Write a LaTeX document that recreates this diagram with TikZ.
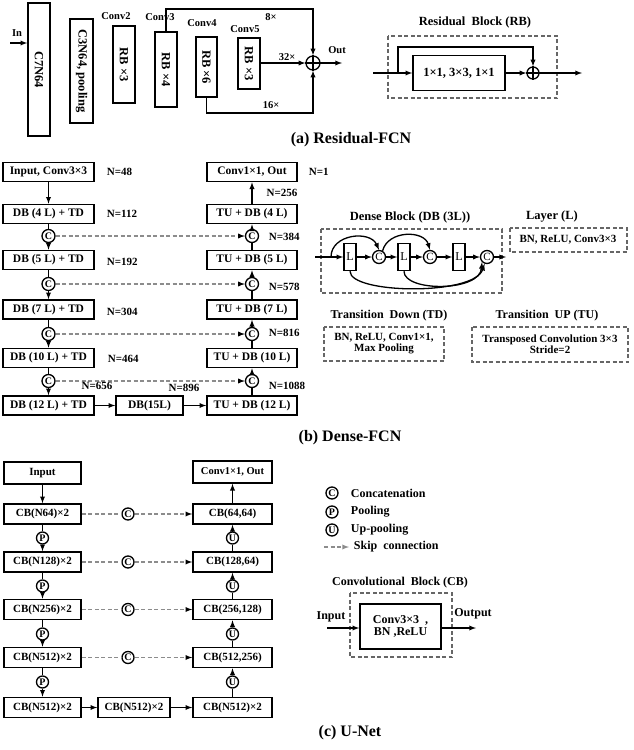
\documentclass[tikz,border=0pt]{standalone}
\usepackage{fontspec}
\setmainfont{Liberation Serif}
\usetikzlibrary{arrows}
\newcommand{\fnt}[1]{\fontsize{#1}{#1}\selectfont\bfseries}

\begin{document}
\begin{tikzpicture}[x=1pt,y=-1pt,>=latex,line width=1.3pt,
  blk/.style={draw,line width=1.6pt,inner sep=1pt,align=center},
  vblk/.style={blk,rotate=-90,font=\fnt{12.5}},
  dfl/.style={blk,minimum width=91pt,minimum height=19pt,font=\fnt{11.5}},
  ufl/.style={blk,minimum width=77pt,minimum height=20pt,font=\fnt{11}},
  lyr/.style={blk,minimum width=12pt,minimum height=27pt,font=\fontsize{12}{12}\selectfont},
  cir/.style={circle,draw,line width=1.3pt,inner sep=0pt,minimum size=12pt,font=\fnt{10}},
  dbx/.style={draw=black!60,dash pattern=on 4pt off 2.5pt,line width=1.3pt},
  skp/.style={draw=black!45,dash pattern=on 4pt off 2.5pt,line width=1.3pt},
  lbl/.style={font=\fnt{10.5}},
  nlbl/.style={font=\fnt{11}},
  ttl/.style={font=\fnt{12.5}},
  txt/.style={font=\fnt{11},align=center},
  captn/.style={font=\fnt{16}}]
\useasboundingbox (0,0) rectangle (633,750);

% (a) Residual-FCN
\node[vblk,minimum width=133pt,minimum height=22pt] (c7) at (39,69.5) {C7N64};
\node[vblk,minimum width=104pt,minimum height=23pt] (c3) at (81.5,71) {C3N64, pooling};
\node[vblk,minimum width=77pt,minimum height=22pt] (rb2) at (124,64.5) {RB ×3};
\node[vblk,minimum width=75pt,minimum height=22pt] (rb3) at (166,69.5) {RB ×4};
\node[vblk,minimum width=60pt,minimum height=21pt] (rb4) at (206.5,67) {RB ×6};
\node[vblk,minimum width=51pt,minimum height=22pt] (rb5) at (249,63.5) {RB ×3};
\node[lbl] (lc2) at (116,16) {Conv2};
\node[lbl] (lc3) at (160,17) {Conv3};
\node[lbl] (lc4) at (202,23) {Conv4};
\node[lbl] (lc5) at (245,29) {Conv5};
\node[lbl] (lin) at (17,33) {In};
\node[circle,draw,line width=1.3pt,minimum size=14pt,inner sep=0pt] (sum) at (313,63) {};
\draw (sum.north) -- (sum.south) (sum.west) -- (sum.east);
\coordinate (inpt) at (10,43);
\coordinate (top8) at (313,9);
\coordinate (bot16) at (313,113);
\coordinate (outr) at (342,63);
\draw[->] (inpt) -- (inpt -| c7.south);
\draw[->] (rb3.west) |- (top8) -- (sum.north);
\draw[->] (rb4.east) |- (bot16) -- (sum.south);
\draw[->] (rb5.north |- sum) -- (sum.west);
\draw[->] (sum.east) -- (outr);
\node[lbl] (l8) at (271,17) {8×};
\node[lbl] (l32) at (287,57) {32×};
\node[lbl] (l16) at (271,105) {16×};
\node[lbl] (lout) at (337,50) {Out};

% residual block
\node[ttl] (trb) at (475,22) {Residual\ \ Block (RB)};
\draw[dbx] (388,36) rectangle (557,98);
\node[blk,minimum width=92pt,minimum height=35pt,font=\fnt{12.5}] (rbc) at (459,73) {1×1, 3×3, 1×1};
\node[circle,draw,line width=1.3pt,minimum size=12pt,inner sep=0pt] (rbp) at (533,73) {};
\draw (rbp.north) -- (rbp.south) (rbp.west) -- (rbp.east);
\coordinate (rbs) at (373,73);
\coordinate (rbj) at (398,73);
\coordinate (rbt) at (533,47);
\coordinate (rbo) at (582,73);
\draw[->] (rbs) -- (rbc);
\draw[->] (rbj) |- (rbt) -- (rbp.north);
\draw[->] (rbc) -- (rbp);
\draw[->] (rbp) -- (rbo);
\node[captn] (capa) at (351,140) {(a) Residual-FCN};

% (b) Dense-FCN
\node[dfl] (inp) at (48.5,172) {Input, Conv3×3};
\node[dfl] (db4) at (48.5,214) {DB (4 L) + TD};
\node[dfl] (db5) at (48.5,260) {DB (5 L) + TD};
\node[dfl] (db7) at (48.5,309.5) {DB (7 L) + TD};
\node[dfl] (db10) at (48.5,358) {DB (10 L) + TD};
\node[dfl] (db12) at (48.5,405.5) {DB (12 L) + TD};
\node[dfl,minimum width=67pt] (db15) at (149.5,405.5) {DB(15L)};
\node[dfl,minimum width=90pt] (dout) at (252,172) {Conv1×1, Out};
\node[dfl,minimum width=90pt] (tu4) at (252,214) {TU + DB (4 L)};
\node[dfl,minimum width=90pt] (tu5) at (252,260) {TU + DB (5 L)};
\node[dfl,minimum width=90pt] (tu7) at (252,309.5) {TU + DB (7 L)};
\node[dfl,minimum width=90pt] (tu10) at (252,358) {TU + DB (10 L)};
\node[dfl,minimum width=90pt] (tu12) at (252,405.5) {TU + DB (12 L)};
\node[cir,minimum size=13pt] (ca1) at (48.5,236) {C};
\node[cir,minimum size=13pt] (ca2) at (48.5,284) {C};
\node[cir,minimum size=13pt] (ca3) at (48.5,334) {C};
\node[cir,minimum size=13pt] (ca4) at (48.5,381) {C};
\node[cir,minimum size=13pt] (cb1) at (252,236) {C};
\node[cir,minimum size=13pt] (cb2) at (252,284) {C};
\node[cir,minimum size=13pt] (cb3) at (252,334) {C};
\node[cir,minimum size=13pt] (cb4) at (252,381) {C};
\path (db4) edge (ca1) (db5) edge (ca2) (db7) edge (ca3) (db10) edge (ca4)
  (tu12) edge (cb4) (tu10) edge (cb3) (tu7) edge (cb2) (tu5) edge (cb1);
\path[->] (inp) edge (db4) (ca1) edge (db5) (ca2) edge (db7) (ca3) edge (db10) (ca4) edge (db12)
  (db12) edge (db15) (db15) edge (tu12)
  (cb4) edge (tu10) (cb3) edge (tu7) (cb2) edge (tu5) (cb1) edge (tu4) (tu4) edge (dout);
\path[skp,->] (ca1) edge (cb1) (ca2) edge (cb2) (ca3) edge (cb3) (ca4) edge (cb4);
\node[nlbl,anchor=west] (n48) at (103,172) {N=48};
\node[nlbl,anchor=west] (n112) at (103,214) {N=112};
\node[nlbl,anchor=west] (n192) at (103,262) {N=192};
\node[nlbl,anchor=west] (n304) at (103,312) {N=304};
\node[nlbl,anchor=west] (n464) at (104,359) {N=464};
\node[nlbl] (n656) at (97,386) {N=656};
\node[nlbl] (n896) at (184,388) {N=896};
\node[nlbl] (n1088) at (287,386) {N=1088};
\node[nlbl,anchor=west] (n1) at (305,172) {N=1};
\node[nlbl] (n256) at (282,193) {N=256};
\node[nlbl,anchor=west] (n384) at (265,237) {N=384};
\node[nlbl,anchor=west] (n578) at (265,287) {N=578};
\node[nlbl,anchor=west] (n816) at (265,333) {N=816};

% dense block
\node[ttl] (tdb) at (410,217) {Dense Block (DB (3L))};
\draw[dbx] (321,229) rectangle (502,293);
\node[lyr] (l1) at (350,257) {L};
\node[lyr] (l2) at (404,257) {L};
\node[lyr] (l3) at (459,257) {L};
\node[cir,minimum size=13pt,font=\fontsize{11}{11}\selectfont] (cc1) at (379,257) {C};
\node[cir,minimum size=13pt,font=\fontsize{11}{11}\selectfont] (cc2) at (430,257) {C};
\node[cir,minimum size=13pt,font=\fontsize{11}{11}\selectfont] (cc3) at (487,257) {C};
\coordinate (dbi) at (315,257);
\coordinate (dbj) at (331,257);
\coordinate (dbo) at (506,257);
\path[->] (dbi) edge (l1) (l1) edge (cc1) (cc1) edge (l2) (l2) edge (cc2) (cc2) edge (l3)
  (l3) edge (cc3) (cc3) edge (dbo);
\draw[->] (dbj) .. controls (331,234) and (370,230) .. (cc1.north);
\draw[->] (cc1.60) .. controls (388,230) and (424,230) .. (cc2.north);
\draw[->] (l1.south) .. controls (350,294) and (474,296) .. (cc3.250);
\draw[->] (l2.south) .. controls (404,292) and (480,292) .. (cc3.225);

\node[ttl] (tly) at (552,217) {Layer (L)};
\draw[dbx] (510,228) rectangle (627,252);
\node[txt] (tlyc) at (568,240) {BN, ReLU, Conv3×3};

\node[ttl,font=\fnt{12}] (ttd) at (389,316) {Transition\ \ Down (TD)};
\draw[dbx] (324,327) rectangle (444,361);
\node[txt] (ttdc) at (384,344) {BN, ReLU, Conv1×1,\\Max Pooling};
\node[ttl,font=\fnt{12}] (ttu) at (547,316) {Transition\ \ UP (TU)};
\draw[dbx] (472,327) rectangle (628,362);
\node[txt] (ttuc) at (550,344.5) {Transposed Convolution 3×3\\Stride=2};
\node[captn] (capb) at (350,438) {(b) Dense-FCN};

% (c) U-Net
\node[ufl,minimum height=22pt] (uin) at (42.5,473) {Input};
\node[ufl] (e1) at (42.5,514) {CB(N64)×2};
\node[ufl] (e2) at (42.5,562) {CB(N128)×2};
\node[ufl] (e3) at (42.5,609.5) {CB(N256)×2};
\node[ufl] (e4) at (42.5,657.5) {CB(N512)×2};
\node[ufl] (e5) at (42.5,707.5) {CB(N512)×2};
\node[ufl,minimum width=72pt] (m5) at (134,707.5) {CB(N512)×2};
\node[ufl,minimum width=79pt,minimum height=22pt,font=\fnt{10.5}] (uout) at (232.5,472) {Conv1×1, Out};
\node[ufl,minimum width=79pt] (d1) at (232.5,514) {CB(64,64)};
\node[ufl,minimum width=79pt] (d2) at (232.5,562) {CB(128,64)};
\node[ufl,minimum width=79pt] (d3) at (232.5,609.5) {CB(256,128)};
\node[ufl,minimum width=79pt] (d4) at (232.5,657.5) {CB(512,256)};
\node[ufl,minimum width=79pt] (d5) at (232.5,707.5) {CB(N512)×2};
\node[cir] (p1) at (42.5,538) {P};
\node[cir] (p2) at (42.5,586) {P};
\node[cir] (p3) at (42.5,634) {P};
\node[cir] (p4) at (42.5,682) {P};
\node[cir] (u1) at (232.5,538) {U};
\node[cir] (u2) at (232.5,586) {U};
\node[cir] (u3) at (232.5,634) {U};
\node[cir] (u4) at (232.5,682) {U};
\node[cir] (k1) at (128,514) {C};
\node[cir] (k2) at (128,562) {C};
\node[cir] (k3) at (128,609.5) {C};
\node[cir] (k4) at (128,657.5) {C};
\path (e1) edge (p1) (e2) edge (p2) (e3) edge (p3) (e4) edge (p4)
  (d5) edge (u4) (d4) edge (u3) (d3) edge (u2) (d2) edge (u1);
\path[->] (uin) edge (e1) (p1) edge (e2) (p2) edge (e3) (p3) edge (e4) (p4) edge (e5)
  (e5) edge (m5) (m5) edge (d5)
  (u4) edge (d4) (u3) edge (d3) (u2) edge (d2) (u1) edge (d1) (d1) edge (uout);
\path[skp] (e1) edge (k1) (e2) edge (k2) (e3) edge (k3) (e4) edge (k4);
\path[skp,->] (k1) edge (d1) (k2) edge (d2) (k3) edge (d3) (k4) edge (d4);

% legend
\node[cir] (gc) at (332,493) {C};
\node[cir] (gp) at (332,512) {P};
\node[cir] (gu) at (332,530) {U};
\node[font=\fnt{12},anchor=west] (tgc) at (347,493) {Concatenation};
\node[font=\fnt{12},anchor=west] (tgp) at (347,512) {Pooling};
\node[font=\fnt{12},anchor=west] (tgu) at (347,530) {Up-pooling};
\coordinate (gs1) at (324,547);
\coordinate (gs2) at (349,547);
\draw[skp,->] (gs1) -- (gs2);
\node[font=\fnt{12},anchor=west] (tgs) at (350,547) {Skip\ \ connection};

% convolutional block
\node[font=\fnt{12}] (tcb) at (400,583) {Convolutional\ \ Block (CB)};
\draw[dbx] (350,593) rectangle (452,657);
\node[blk,minimum width=81pt,minimum height=45pt,font=\fnt{12}] (cbc) at (400.5,626.5) {Conv3×3\ \ ,\\BN ,ReLU};
\coordinate (cbi) at (327,628);
\coordinate (cbo) at (476,628);
\draw[->] (cbi) -- (cbi -| cbc.west);
\draw[->] (cbo -| cbc.east) -- (cbo);
\node[font=\fnt{12}] (tci) at (331,617) {Input};
\node[font=\fnt{12}] (tco) at (473,614) {Output};
\node[captn] (capc) at (350,733) {(c) U-Net};
\end{tikzpicture}
\end{document}
